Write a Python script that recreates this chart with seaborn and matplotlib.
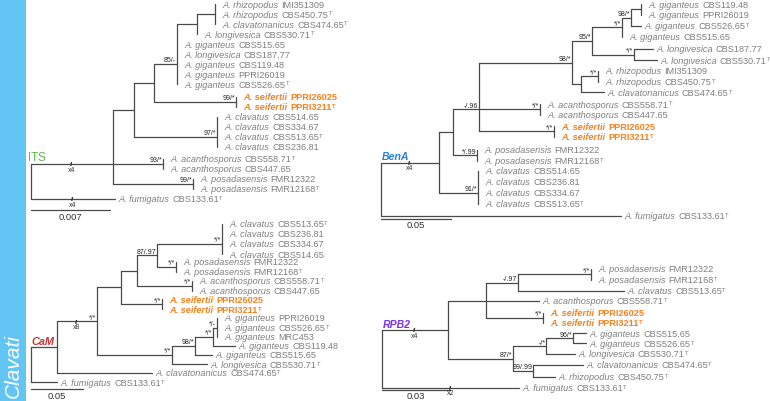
import numpy as np
import pandas as pd
import seaborn as sns
import matplotlib
matplotlib.use("Agg")
import matplotlib.pyplot as plt
from matplotlib.patches import Rectangle

sns.set_theme(style="white")
plt.rcParams['font.family'] = ['Liberation Sans', 'DejaVu Sans']

# ---------------- data ----------------
TYPE_STRAINS = {"CBS450.75", "CBS474.65", "CBS530.71", "CBS526.65", "PPRI3211",
                "CBS513.65", "CBS558.71", "FMR12168", "CBS133.61"}

its_species = ["rhizopodus", "rhizopodus", "clavatonanicus", "longivesica", "giganteus",
               "longivesica", "giganteus", "giganteus", "giganteus", "seifertii", "seifertii",
               "clavatus", "clavatus", "clavatus", "clavatus", "acanthosporus", "acanthosporus",
               "posadasensis", "posadasensis", "fumigatus"]
its_strains = ["IMI351309", "CBS450.75", "CBS474.65", "CBS530.71", "CBS515.65", "CBS187.77",
               "CBS119.48", "PPRI26019", "CBS526.65", "PPRI26025", "PPRI3211", "CBS514.65",
               "CBS334.67", "CBS513.65", "CBS236.81", "CBS558.71", "CBS447.65", "FMR12322",
               "FMR12168", "CBS133.61"]
its_rows = [5, 15, 25, 35, 45, 55, 65, 75, 85, 98, 108, 118, 128, 138, 148, 160, 170, 180, 190, 200]
its_newick = ("(((((((L0:0,L1:0,L2:0):18,L3:0):20,L4:0,L5:0,L6:0,L7:0,L8:0)85/-:23,"
              "(L9:0,L10:0)99/*:82):20,(L11:0,L12:0,L13:0,L14:0)97/*:83):21,"
              "(L15:0,L16:0)93/*:50,(L17:0,L18:0)99/*:80):82,L19:84)")

bena_species = ["giganteus", "giganteus", "giganteus", "giganteus", "longivesica", "longivesica",
                "rhizopodus", "rhizopodus", "clavatonanicus", "acanthosporus", "acanthosporus",
                "seifertii", "seifertii", "posadasensis", "posadasensis", "clavatus", "clavatus",
                "clavatus", "clavatus", "fumigatus"]
bena_strains = ["CBS119.48", "PPRI26019", "CBS526.65", "CBS515.65", "CBS187.77", "CBS530.71",
                "IMI351309", "CBS450.75", "CBS474.65", "CBS558.71", "CBS447.65", "PPRI26025",
                "PPRI3211", "FMR12322", "FMR12168", "CBS514.65", "CBS236.81", "CBS334.67",
                "CBS513.65", "CBS133.61"]
bena_rows = [5, 15.7, 26.7, 37.7, 50, 61, 72, 82.7, 93.3, 105, 115.7, 127, 137.7, 151, 161.7,
             172, 182.7, 193.7, 204.5, 217]
bena_newick = ("(((((((((L0:0,L1:0):10,L2:10)98/*:9,L3:0)*/*:30,(L4:19,L5:23)*/*:42)95/*:20,"
               "((L6:0,L7:0)*/*:17,L8:22.5):9)98/*:93,(L9:0,L10:0)*/*:61,(L11:0,L12:0)*/*:75)-/.96:26,"
               "(L13:0,L14:0)*/.99:24):14,(L15:0,L16:0,L17:0,L18:0)91/*:39):58,L19:240)")

cam_species = ["clavatus", "clavatus", "clavatus", "clavatus", "posadasensis", "posadasensis",
               "acanthosporus", "acanthosporus", "seifertii", "seifertii", "giganteus", "giganteus",
               "giganteus", "giganteus", "giganteus", "longivesica", "clavatonanicus", "fumigatus"]
cam_strains = ["CBS513.65", "CBS236.81", "CBS334.67", "CBS514.65", "FMR12322", "FMR12168",
               "CBS558.71", "CBS447.65", "PPRI26025", "PPRI3211", "PPRI26019", "CBS526.65",
               "MRC453", "CBS119.48", "CBS515.65", "CBS530.71", "CBS474.65", "CBS133.61"]
cam_rows = [225, 235, 245, 255, 262.7, 272.7, 281.7, 291.7, 300.3, 310.3, 319, 329, 337.7,
            346.7, 355.7, 365.3, 374, 383.3]
cam_newick = ("(((((((L0:0,L1:0,L2:0,L3:0)*/*:65,(L4:0,L5:0)*/*:19)87/.97:20,(L6:0,L7:0)*/*:55):16,"
              "(L8:0,L9:0)*/*:41):24,((((L10:0,L11:0,L12:0)*/-:4,L13:22)*/*:18,L14:17)98/*:23,"
              "L15:35)*/*:75)*/*:40,L16:95):26,L17:26)")

rpb2_species = ["posadasensis", "posadasensis", "clavatus", "acanthosporus", "seifertii",
                "seifertii", "giganteus", "giganteus", "longivesica", "clavatonanicus",
                "rhizopodus", "fumigatus"]
rpb2_strains = ["FMR12322", "FMR12168", "CBS513.65", "CBS558.71", "PPRI26025", "PPRI3211",
                "CBS515.65", "CBS526.65", "CBS530.71", "CBS474.65", "CBS450.75", "CBS133.61"]
rpb2_rows = [270, 280.7, 291.7, 302, 313.5, 324, 334.3, 344.3, 355, 366, 377.7, 388.7]
rpb2_newick = ("(((((L0:0,L1:0)*/*:73,L2:106)-/.97:32,L3:53,(L4:0,L5:0)*/*:57):38,"
               "(((L6:13,L7:13)96/*:27,L8:29)-/*:33,(L9:50,L10:22)99/.99:20)87/*:65):66,L11:137)")

TREES = [
    dict(name="ITS", color="#5cb946", weight="normal", style="normal", size=8.3, ldx=-3,
         root_x=31, newick=its_newick, rows=its_rows, species=its_species, strains=its_strains,
         breaks=[((0,), "x4"), ((1,), "x4")], scale=("0.007", 79, 211)),
    dict(name="BenA", color="#2a7de1", weight="bold", style="italic", size=7.6, ldx=1,
         root_x=381, newick=bena_newick, rows=bena_rows, species=bena_species,
         strains=bena_strains, breaks=[((0,), "x4")], scale=("0.05", 70, 219.5)),
    dict(name="CaM", color="#cc3333", weight="bold", style="italic", size=7.8, ldx=0,
         root_x=31, newick=cam_newick, rows=cam_rows, species=cam_species, strains=cam_strains,
         breaks=[((0, 0), "x8")], scale=("0.05", 52, 390)),
    dict(name="RPB2", color="#7b2ff0", weight="bold", style="italic", size=7.6, ldx=1,
         root_x=382, newick=rpb2_newick, rows=rpb2_rows, species=rpb2_species,
         strains=rpb2_strains, breaks=[((0,), "x4"), ((1,), "x2")], scale=("0.03", 68, 390.5)),
]

LINE_C = "#4a4a4a"
TEXT_C = "#7f7f7f"
ORANGE = "#f5821f"
FS = 6.6


def parse_newick(s):
    pos = 0

    def token():
        nonlocal pos
        st = pos
        while s[pos] not in ",():;":
            pos += 1
        return s[st:pos]

    def node():
        nonlocal pos
        ch = []
        if s[pos] == "(":
            pos += 1
            ch.append(node())
            while s[pos] == ",":
                pos += 1
                ch.append(node())
            pos += 1
        lab = token()
        ln = 0.0
        if s[pos] == ":":
            pos += 1
            ln = float(token())
        return {"ch": ch, "label": lab, "len": ln}

    s = s + ";"
    return node()


def layout(n, x0, rows):
    n["x"] = x0 + n["len"]
    if not n["ch"]:
        n["y"] = rows[int(n["label"][1:])]
    else:
        for c in n["ch"]:
            layout(c, n["x"], rows)
        k = len(n["ch"])
        if k == 2:
            n["y"] = (n["ch"][0]["y"] + n["ch"][1]["y"]) / 2
        else:
            n["y"] = n["ch"][k // 2]["y"]


def collect(n, out, sup, leaves):
    if n["ch"]:
        out.append(((n["x"], n["ch"][0]["y"]), (n["x"], n["ch"][-1]["y"])))
        for c in n["ch"]:
            if c["len"] > 0:
                out.append(((n["x"], c["y"]), (c["x"], c["y"])))
            collect(c, out, sup, leaves)
        if n["label"]:
            sup.append((n["x"], n["y"], n["label"]))
    else:
        leaves.append(n)


fig = plt.figure(figsize=(7.7, 4.02), dpi=100)
ax = fig.add_axes([0, 0, 1, 1])

# blue side bar
ax.add_patch(Rectangle((0, 0), 26, 402, color="#62c5f4", zorder=0, lw=0))
ax.text(13, 366, "Clavati", rotation=90, color="white", fontsize=15, style="italic",
        ha="center", va="center")

rows_df = []
seg_id = 0
for t in TREES:
    root = parse_newick(t["newick"])
    layout(root, t["root_x"], t["rows"])
    out, sup, leaves = [], [], []
    collect(root, out, sup, leaves)
    # scale bar
    lab, slen, sy = t["scale"]
    out.append(((t["root_x"], sy), (t["root_x"] + slen, sy)))
    for (x1, y1), (x2, y2) in out:
        rows_df.append(dict(x=x1, y=y1, seg=seg_id))
        rows_df.append(dict(x=x2, y=y2, seg=seg_id))
        seg_id += 1
    ax.text(t["root_x"] + slen / 2, sy + 2, lab, fontsize=6.8, color="#333333",
            ha="center", va="top")
    # support values
    for x, y, s in sup:
        ax.text(x - 0.8, y - 0.6, s, fontsize=5.0, color="#222222", ha="right", va="bottom")
    # leaves
    for lf in leaves:
        i = int(lf["label"][1:])
        sp = t["species"][i]
        st = t["strains"][i]
        bold = sp == "seifertii"
        col = ORANGE if bold else TEXT_C
        w = "bold" if bold else "normal"
        gap = 3.5 if lf["len"] > 0 else 7.5
        txt = ax.text(lf["x"] + gap, lf["y"], "A. " + sp, fontsize=FS, style="italic",
                      weight=w, color=col, ha="left", va="center")
        st_t = ax.annotate(st, xy=(1, 0), xycoords=txt, xytext=(1.9, 0),
                           textcoords="offset points", fontsize=FS, weight=w, color=col,
                           ha="left", va="bottom")
        if st in TYPE_STRAINS:
            ax.annotate("T", xy=(1, 1), xycoords=st_t, xytext=(0.3, -0.6),
                        textcoords="offset points", fontsize=4.2, weight=w, color=col,
                        ha="left", va="top")
    # break marks
    for path, lab2 in t["breaks"]:
        par = root
        n = root
        for k in path:
            par = n
            n = n["ch"][k]
        bx = (par["x"] + n["x"]) / 2
        ax.text(bx, n["y"], "//", fontsize=4.2, color="#333333", ha="center", va="center",
                weight="bold")
        ax.text(bx, n["y"] + 1.8, lab2, fontsize=5.0, color="#333333", ha="center", va="top")
    # gene label
    ing = root["ch"][0]
    ax.text(t["root_x"] + t["ldx"], ing["y"] - 1.2, t["name"], fontsize=t["size"],
            color=t["color"], weight=t["weight"], style=t["style"], ha="left", va="bottom")

df = pd.DataFrame(rows_df)
sns.lineplot(data=df, x="x", y="y", units="seg", estimator=None, sort=False,
             color=LINE_C, lw=0.9, legend=False, ax=ax)

ax.set_xlim(0, 770)
ax.set_ylim(402, 0)
ax.axis("off")
fig.savefig("out.png", dpi=100)
